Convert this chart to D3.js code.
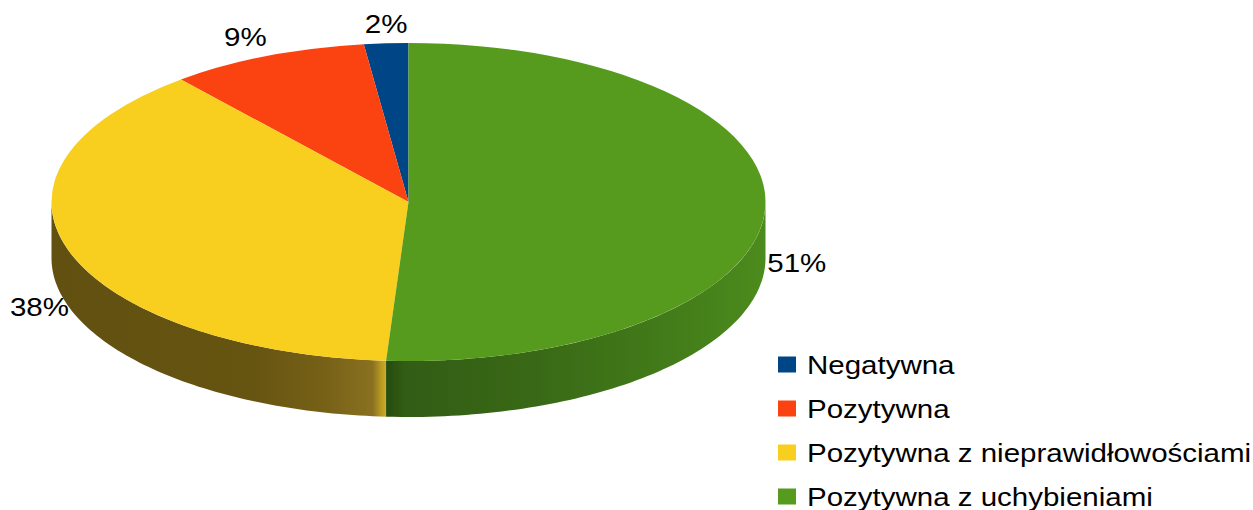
<!DOCTYPE html>
<meta charset="utf-8">
<title>Ocena</title>
<style>
  html, body { margin: 0; padding: 0; background: #ffffff; }
  svg { display: block; }
  text { font-family: "Liberation Sans", Arial, sans-serif; fill: #000000; }
</style>
<body>
<script src="https://d3js.org/d3.v7.min.js"></script>
<script>
var categories = ["Negatywna", "Pozytywna", "Pozytywna z nieprawidłowościami", "Pozytywna z uchybieniami"];
var values = [2, 9, 38, 51];
var topColors = ["#004586", "#fb4311", "#f8cf1f", "#569b1d"];
var sideStops = [
  [[0, "#00284f"], [1, "#00345f"]],
  [[0, "#8f2608"], [1, "#a02c0a"]],
  [[0, "#615010"], [0.6, "#665411"], [0.82, "#776117"], [0.96, "#8a7121"], [0.985, "#b89a22"], [1, "#cfac22"]],
  [[0, "#264b0f"], [0.05, "#325d15"], [0.4, "#396916"], [0.8, "#447f1a"], [1, "#4c8b1d"]]
];

var W = 1253, H = 510;
var cx = 408.5, cy = 202, rx = 357, ry = 159, depth = 56;
var fontSize = 25, stretch = 1.18;

var svg = d3.select("body").append("svg")
    .attr("width", W)
    .attr("height", H);

var defs = svg.append("defs");

// counter-clockwise from 12 o'clock, like the office chart
var pie = d3.pie().sort(null).startAngle(0).endAngle(-2 * Math.PI);
var arcs = pie(values);
var total = d3.sum(values);

function rimX(a) { return cx + rx * Math.sin(a); }
function rimY(a) { return cy - ry * Math.cos(a); }

// side wall: only the front half (cos < 0) is visible
function sidePath(d) {
  var lo = Math.min(d.startAngle, d.endAngle),
      hi = Math.max(d.startAngle, d.endAngle);
  lo = Math.max(lo, -1.5 * Math.PI);
  hi = Math.min(hi, -0.5 * Math.PI);
  if (hi <= lo) return null;
  var n = 80, top = [], bottom = [];
  for (var i = 0; i <= n; i++) {
    var a = lo + (hi - lo) * i / n;
    top.push([rimX(a), rimY(a)]);
    bottom.push([rimX(a), rimY(a) + depth]);
  }
  return d3.line()(top.concat(bottom.reverse())) + "Z";
}

arcs.forEach(function(d, i) {
  var lo = Math.max(Math.min(d.startAngle, d.endAngle), -1.5 * Math.PI),
      hi = Math.min(Math.max(d.startAngle, d.endAngle), -0.5 * Math.PI);
  var x0 = Math.min(rimX(lo), rimX(hi)), x1 = Math.max(rimX(lo), rimX(hi));
  var g = defs.append("linearGradient")
      .attr("id", "side" + i)
      .attr("gradientUnits", "userSpaceOnUse")
      .attr("x1", x0).attr("x2", x1)
      .attr("y1", 0).attr("y2", 0);
  g.selectAll("stop").data(sideStops[i]).enter().append("stop")
      .attr("offset", function(s) { return s[0]; })
      .attr("stop-color", function(s) { return s[1]; });
});

svg.append("g").attr("class", "sides")
  .selectAll("path")
  .data(arcs.filter(function(d) { return sidePath(d) !== null; }))
  .enter().append("path")
    .attr("d", sidePath)
    .attr("fill", function(d) { return "url(#side" + d.index + ")"; });

var arc = d3.arc().innerRadius(0).outerRadius(rx);

svg.append("g").attr("class", "tops")
    .attr("transform", "translate(" + cx + "," + cy + ") scale(1," + (ry / rx) + ")")
  .selectAll("path")
  .data(arcs)
  .enter().append("path")
    .attr("d", arc)
    .attr("fill", function(d) { return topColors[d.index]; });

// percentage labels outside the rim
svg.append("g").attr("class", "labels")
  .selectAll("text")
  .data(arcs)
  .enter().append("text")
    .attr("font-size", fontSize)
    .attr("transform", function(d) {
      var m = (d.startAngle + d.endAngle) / 2,
          s = Math.sin(m), c = Math.cos(m);
      var px = rimX(m), py = rimY(m) + (c < 0 ? depth : 0);
      var bx = Math.abs(s) < 0.3 ? px : (s > 0 ? px + 2 : px);
      var by = c > 0.5 ? py - 10 : (c < -0.5 ? py + 22 : py + 9);
      return "translate(" + bx + "," + by + ") scale(" + stretch + ",1)";
    })
    .attr("text-anchor", function(d) {
      var s = Math.sin((d.startAngle + d.endAngle) / 2);
      return Math.abs(s) < 0.3 ? "middle" : (s > 0 ? "start" : "end");
    })
    .text(function(d) { return Math.round(d.value / total * 100) + "%"; });

// legend
var legend = svg.append("g").attr("class", "legend")
    .attr("transform", "translate(778,374)");

var item = legend.selectAll("g")
  .data(categories)
  .enter().append("g")
    .attr("transform", function(d, i) { return "translate(0," + (i * 44) + ")"; });

item.append("rect")
    .attr("x", 0)
    .attr("y", -17.5)
    .attr("width", 18)
    .attr("height", 16)
    .attr("fill", function(d, i) { return topColors[i]; });

item.append("text")
    .attr("font-size", fontSize)
    .attr("transform", "translate(29,0) scale(" + stretch + ",1)")
    .text(function(d) { return d; });
</script>
</body>
</html>
